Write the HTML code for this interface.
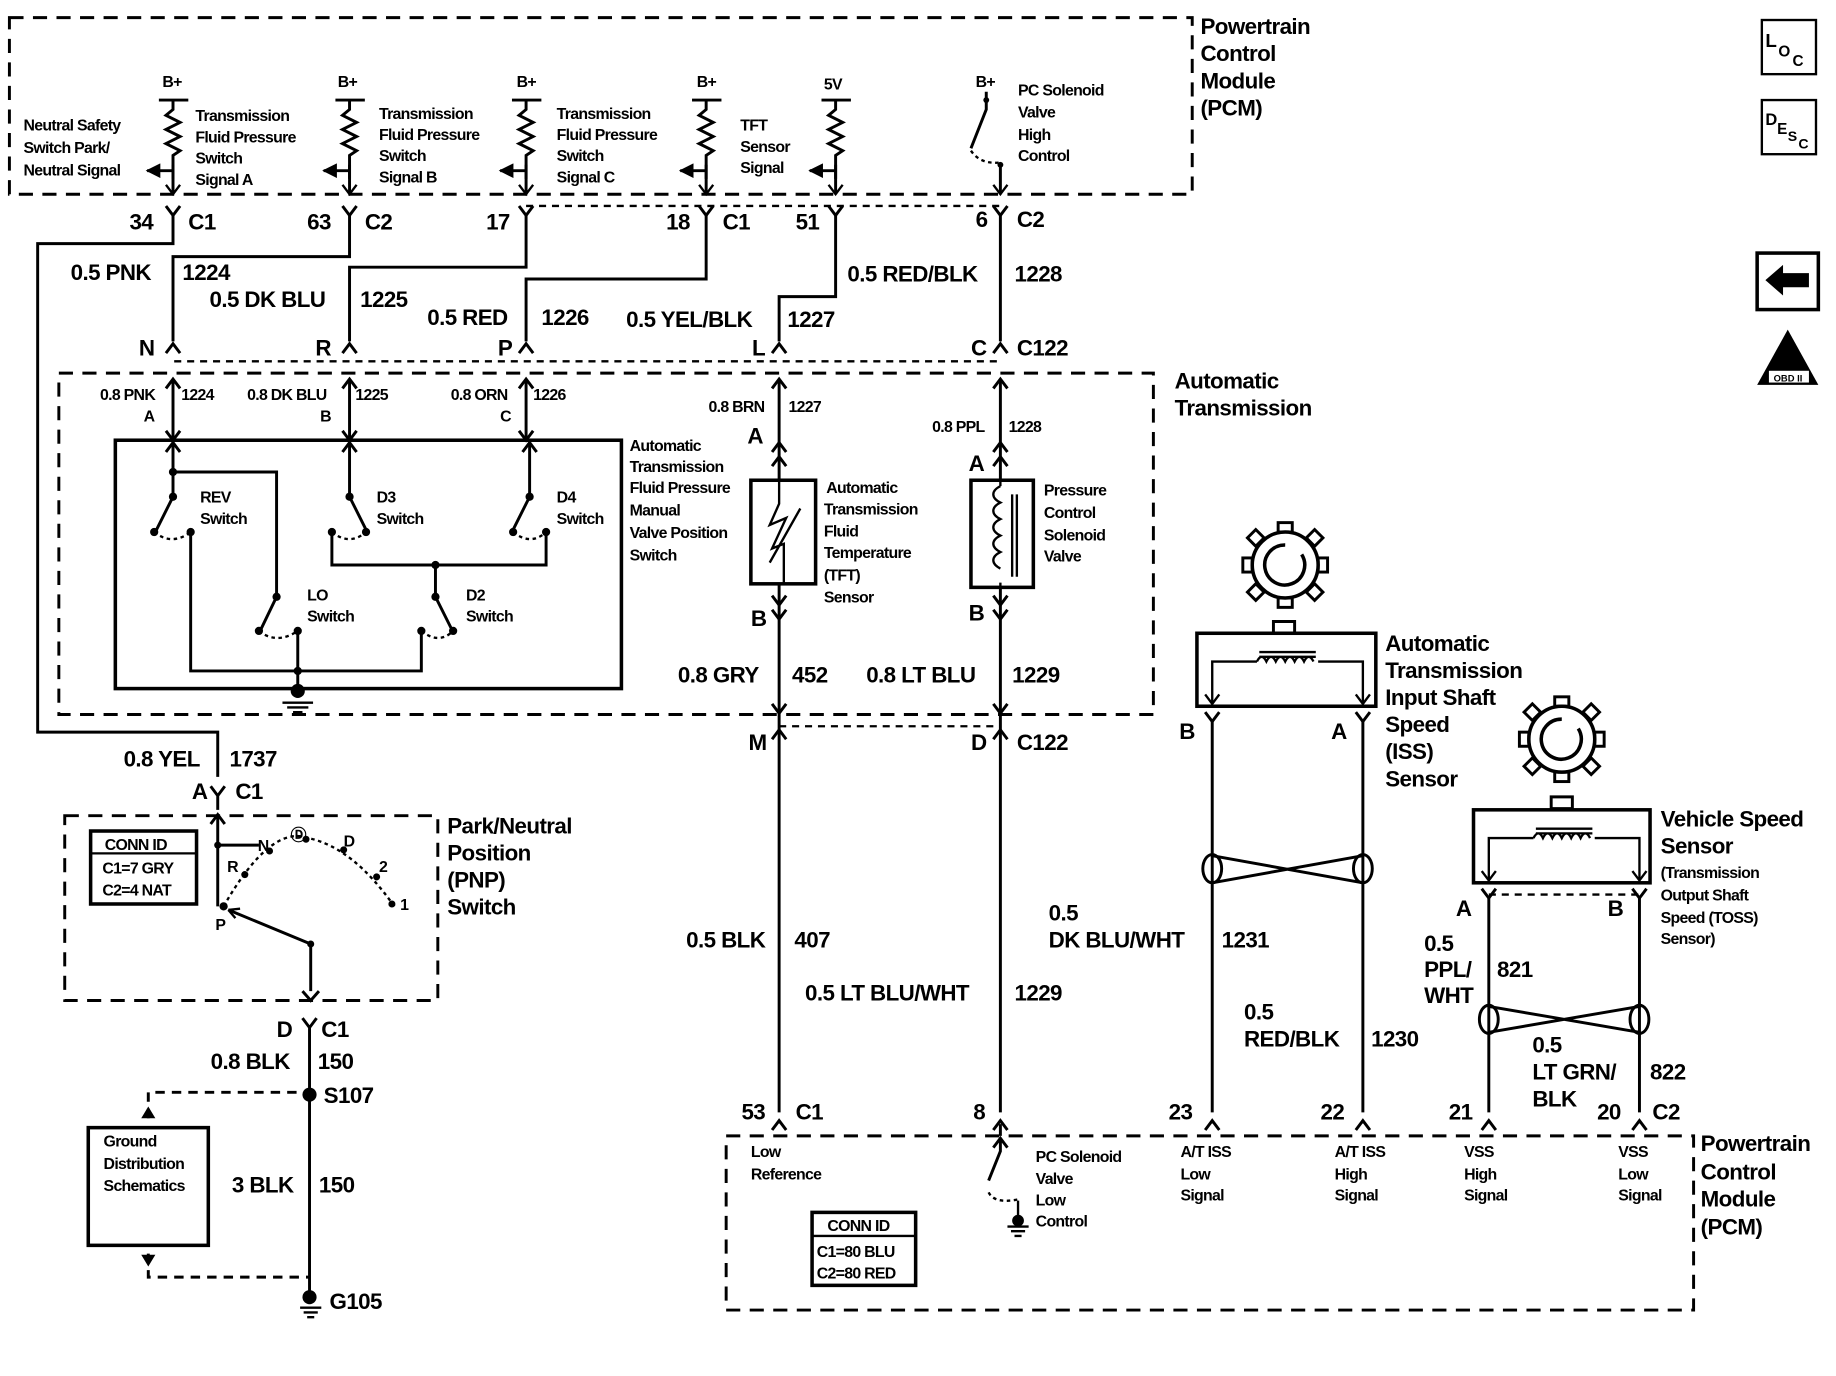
<!DOCTYPE html>
<html><head><meta charset="utf-8"><style>
html,body{margin:0;padding:0;background:#fff}
svg{display:block}
text{font-family:"Liberation Sans",sans-serif;fill:#000}
.b{font-size:19px;font-weight:bold;letter-spacing:-0.5px}
.s{font-size:13.5px;font-weight:bold;letter-spacing:-0.6px}
</style></head><body>
<svg width="1836" height="1376" viewBox="0 0 1560 1169" preserveAspectRatio="none" xmlns="http://www.w3.org/2000/svg">
<defs>
<marker id="ar" viewBox="0 0 10 10" refX="9" refY="5" markerWidth="5" markerHeight="5" orient="auto"><path d="M0,0L10,5L0,10z" fill="#000"/></marker>
</defs>
<g fill="none" stroke="#000" stroke-width="2.5">
<g stroke-dasharray="12,8">
<rect x="8" y="15" width="1005" height="150"/>
<rect x="50" y="317" width="930" height="290"/>
<rect x="617" y="965" width="822" height="148"/>
<rect x="55" y="693" width="317" height="157"/>
</g>
<g stroke-dasharray="6,5" stroke-width="2">
<line x1="447" y1="175" x2="850" y2="175"/>
<line x1="148" y1="307" x2="850" y2="307"/>
<line x1="662" y1="617" x2="850" y2="617"/>
<line x1="1265" y1="760" x2="1393" y2="760"/>
</g>
<path d="M135,85h25M147,85v8l-6,5l12,6l-12,6l12,6l-12,6l12,6l-6,4v20"/>
<path d="M285,85h25M297,85v8l-6,5l12,6l-12,6l12,6l-12,6l12,6l-6,4v20"/>
<path d="M435,85h25M447,85v8l-6,5l12,6l-12,6l12,6l-12,6l12,6l-6,4v20"/>
<path d="M588,85h25M600,85v8l-6,5l12,6l-12,6l12,6l-12,6l12,6l-6,4v20"/>
<path d="M698,85h25M710,85v8l-6,5l12,6l-12,6l12,6l-12,6l12,6l-6,4v20"/>
<path d="M147,145h-22" marker-end="url(#ar)"/>
<path d="M297,145h-22" marker-end="url(#ar)"/>
<path d="M447,145h-22" marker-end="url(#ar)"/>
<path d="M600,145h-22" marker-end="url(#ar)"/>
<path d="M710,145h-22" marker-end="url(#ar)"/>
<path d="M147,140v25M297,140v25M447,140v25M600,140v25M710,140v25M850,140v25"/>
<path d="M141,157l6,8l6,-8M291,157l6,8l6,-8M441,157l6,8l6,-8M594,157l6,8l6,-8M704,157l6,8l6,-8M844,157l6,8l6,-8" stroke-width="2"/>
<path d="M838,78v15l-13,33"/>
<path d="M825,128q8,12 25,10" stroke-dasharray="3,3" stroke-width="2"/>
<path d="M141,175l6,8l6,-8M291,175l6,8l6,-8M441,175l6,8l6,-8M594,175l6,8l6,-8M704,175l6,8l6,-8M844,175l6,8l6,-8"/>
<path d="M147,183v24H32v415h153v38"/>
<path d="M297,183v35H147v72"/>
<path d="M447,183v44H297v63"/>
<path d="M600,183v54H447v53"/>
<path d="M710,183v69H662v38"/>
<path d="M850,183v107"/>
<path d="M141,300l6,-8l6,8M291,300l6,-8l6,8M441,300l6,-8l6,8M656,300l6,-8l6,8M844,300l6,-8l6,8"/>
<path d="M147,322v50M297,322v50M447,322v50M662,322v85M850,322v85"/>
<path d="M141,330l6,-8l6,8M291,330l6,-8l6,8M441,330l6,-8l6,8M656,330l6,-8l6,8M844,330l6,-8l6,8"/>
<path d="M141,366l6,8l6,-8M291,366l6,8l6,-8M441,366l6,8l6,-8"/>
<rect x="98" y="374" width="430" height="211" stroke-width="3"/>
<path d="M147,376v46l-14,28M147,401h88v106l-13,27M162,452v118h196v-34M297,376v46l14,28M282,452v28h182v-28M450,376v46l-14,28M370,480v27l14,28M253,536v49"/>
<path d="M141,384l6,-8l6,8M291,384l6,-8l6,8M444,384l6,-8l6,8"/>
<g stroke-dasharray="3,3" stroke-width="2"><path d="M131,452q15,12 31,0M282,452q15,12 29,0M436,452q15,12 28,0M220,536q15,12 33,0M358,536q15,12 27,0"/></g>
<path d="M240,597h26M244,601h18M249,605h8" stroke-width="2"/>
<rect x="638" y="408" width="55" height="88" stroke-width="3"/>
<path d="M662,408v20l-8,18l14,-6l-12,26l10,-4v34M654,478l26,-46" stroke-width="2"/>
<path d="M656,396l6,-8l6,8M656,384l6,-8l6,8M656,506l6,8l6,-8M656,518l6,8l6,-8"/>
<path d="M662,496v125M850,499v122"/>
<rect x="825" y="408" width="53" height="91" stroke-width="3"/>
<path d="M850,408v5M850,495v4M850,413c-8,4 -8,10 0,14c-8,4 -8,10 0,14c-8,4 -8,10 0,14c-8,4 -8,10 0,14c-8,4 -8,10 0,14M860,420v70M864,420v70" stroke-width="2"/>
<path d="M844,396l6,-8l6,8M844,384l6,-8l6,8M844,506l6,8l6,-8M844,518l6,8l6,-8"/>
<path d="M656,598l6,8l6,-8M844,598l6,8l6,-8M656,628l6,-8l6,8M844,628l6,-8l6,8"/>
<path d="M662,620v325M850,620v325"/>
<!-- ISS gear -->
<circle cx="1092" cy="480" r="28" stroke-width="3"/>
<path d="M1092,463a17,17 0 1 0 14,8" stroke-width="3"/>
<g stroke-width="2.5">
<rect x="1086" y="444" width="12" height="8"/><rect x="1086" y="508" width="12" height="8"/><rect x="1056" y="474" width="8" height="12"/><rect x="1120" y="474" width="8" height="12"/>
<rect x="1062" y="452" width="10" height="10" transform="rotate(45 1067 457)"/><rect x="1112" y="452" width="10" height="10" transform="rotate(45 1117 457)"/><rect x="1062" y="498" width="10" height="10" transform="rotate(45 1067 503)"/><rect x="1112" y="498" width="10" height="10" transform="rotate(45 1117 503)"/>
</g>
<path d="M1082,528h18v10h-18z"/>
<rect x="1017" y="538" width="152" height="62" stroke-width="3"/>
<path d="M1030,598v-36h38M1158,598v-36h-38M1070,558h48M1070,554h48M1068,562q4,-8 8,0q4,-8 8,0q4,-8 8,0q4,-8 8,0q4,-8 8,0q4,-8 8,0" stroke-width="2"/>
<path d="M1024,590l6,8l6,-8M1152,590l6,8l6,-8" stroke-width="2"/>
<path d="M1024,605l6,8l6,-8M1152,605l6,8l6,-8"/>
<path d="M1030,613v332M1158,613v332"/>
<path d="M1030,727L1158,750M1030,750L1158,727"/>
<ellipse cx="1030" cy="738" rx="8" ry="12"/><ellipse cx="1158" cy="738" rx="8" ry="12"/>
<!-- VSS gear -->
<circle cx="1327" cy="628" r="28" stroke-width="3"/>
<path d="M1327,611a17,17 0 1 0 14,8" stroke-width="3"/>
<g stroke-width="2.5">
<rect x="1321" y="592" width="12" height="8"/><rect x="1321" y="656" width="12" height="8"/><rect x="1291" y="622" width="8" height="12"/><rect x="1355" y="622" width="8" height="12"/>
<rect x="1297" y="600" width="10" height="10" transform="rotate(45 1302 605)"/><rect x="1347" y="600" width="10" height="10" transform="rotate(45 1352 605)"/><rect x="1297" y="646" width="10" height="10" transform="rotate(45 1302 651)"/><rect x="1347" y="646" width="10" height="10" transform="rotate(45 1352 651)"/>
</g>
<path d="M1318,677h18v10h-18z"/>
<rect x="1252" y="688" width="150" height="62" stroke-width="3"/>
<path d="M1265,748v-36h38M1393,748v-36h-38M1305,708h48M1305,704h48M1303,712q4,-8 8,0q4,-8 8,0q4,-8 8,0q4,-8 8,0q4,-8 8,0q4,-8 8,0" stroke-width="2"/>
<path d="M1259,740l6,8l6,-8M1387,740l6,8l6,-8" stroke-width="2"/>
<path d="M1259,755l6,8l6,-8M1387,755l6,8l6,-8"/>
<path d="M1265,763v182M1393,763v182"/>
<path d="M1265,855L1393,877M1265,877L1393,855"/>
<ellipse cx="1265" cy="866" rx="8" ry="12"/><ellipse cx="1393" cy="866" rx="8" ry="12"/>
<path d="M656,960l6,-8l6,8M844,960l6,-8l6,8M1024,960l6,-8l6,8M1152,960l6,-8l6,8M1259,960l6,-8l6,8M1387,960l6,-8l6,8"/>
<path d="M850,965v-10M844,975l6,-8l6,8M850,968v10l-10,25"/>
<path d="M840,1013q5,10 25,6" stroke-dasharray="3,3" stroke-width="2"/>
<path d="M865,1020v18M856,1042h18M859,1046h12M862,1050h6" stroke-width="2"/>
<!-- PNP -->
<path d="M179,668l6,8l6,-8M185,676v12M179,700l6,-8l6,8M185,692v78"/>
<path d="M185,718h35"/>
<path d="M194,773L264,802M264,802v40"/>
<path d="M194,773l10,-1M194,773l6,7" stroke-width="2"/>
<path d="M257,842l7,8l7,-8M257,865l6,8l6,-8M263,872v225"/>
<path d="M190,770Q230,700 262,712Q300,720 335,770" stroke-dasharray="3,3" stroke-width="2"/>
<rect x="77" y="706" width="90" height="62" stroke-width="3"/>
<path d="M77,725h90" stroke-width="2"/>
<rect x="75" y="958" width="102" height="100" stroke-width="3"/>
<path d="M126,950v-22h137M126,1065v20h137" stroke-dasharray="8,6"/>
<path d="M255,1111h18M258,1115h12M261,1119h6" stroke-width="2"/>
<rect x="690" y="1030" width="88" height="62" stroke-width="3"/>
<path d="M690,1050h88" stroke-width="2"/>
<rect x="1497" y="17" width="46" height="46" stroke-width="2"/>
<rect x="1497" y="85" width="46" height="46" stroke-width="2"/>
<rect x="1493" y="215" width="52" height="48" stroke-width="3"/>
</g>
<g fill="#000">
<circle cx="253" cy="587" r="6"/>
<circle cx="147" cy="401" r="3.5"/><circle cx="147" cy="422" r="3.5"/><circle cx="131" cy="452" r="3.5"/><circle cx="162" cy="452" r="3.5"/>
<circle cx="297" cy="422" r="3.5"/><circle cx="282" cy="452" r="3.5"/><circle cx="311" cy="452" r="3.5"/>
<circle cx="450" cy="422" r="3.5"/><circle cx="436" cy="452" r="3.5"/><circle cx="464" cy="452" r="3.5"/>
<circle cx="370" cy="480" r="3.5"/><circle cx="235" cy="507" r="3.5"/><circle cx="220" cy="536" r="3.5"/><circle cx="253" cy="536" r="3.5"/>
<circle cx="370" cy="507" r="3.5"/><circle cx="358" cy="536" r="3.5"/><circle cx="385" cy="536" r="3.5"/><circle cx="253" cy="570" r="3.5"/>
<circle cx="263" cy="930" r="6"/><circle cx="263" cy="1102" r="6"/><circle cx="865" cy="1037" r="5"/>
<circle cx="185" cy="718" r="3"/><circle cx="190" cy="770" r="3.5"/><circle cx="208" cy="743" r="3"/><circle cx="229" cy="723" r="3"/><circle cx="260" cy="713" r="3"/><circle cx="292" cy="722" r="3"/><circle cx="320" cy="745" r="3"/><circle cx="333" cy="768" r="3"/>
<circle cx="264" cy="802" r="3"/>
<path d="M120,950l6,-10l6,10z M120,1066l6,10l6,-10z"/>
<path d="M1500,238l15,-13v7h22v12h-22v7z"/>
<path d="M1493,327l26,-47l26,47z"/>
<circle cx="838" cy="85" r="2.5"/><circle cx="850" cy="140" r="2.5"/>
</g>
<g fill="#fff"><rect x="1503" y="315" width="34" height="10"/></g>
<g class="s">
<text x="138" y="74">B+</text><text x="287" y="74">B+</text><text x="439" y="74">B+</text><text x="592" y="74">B+</text><text x="700" y="76">5V</text><text x="829" y="74">B+</text>
<text x="20" y="111">Neutral Safety</text><text x="20" y="130">Switch Park/</text><text x="20" y="149">Neutral Signal</text>
<text x="166" y="103">Transmission</text><text x="166" y="121">Fluid Pressure</text><text x="166" y="139">Switch</text><text x="166" y="157">Signal A</text>
<text x="322" y="101">Transmission</text><text x="322" y="119">Fluid Pressure</text><text x="322" y="137">Switch</text><text x="322" y="155">Signal B</text>
<text x="473" y="101">Transmission</text><text x="473" y="119">Fluid Pressure</text><text x="473" y="137">Switch</text><text x="473" y="155">Signal C</text>
<text x="629" y="111">TFT</text><text x="629" y="129">Sensor</text><text x="629" y="147">Signal</text>
<text x="865" y="81">PC Solenoid</text><text x="865" y="100">Valve</text><text x="865" y="119">High</text><text x="865" y="137">Control</text>
<text x="85" y="340">0.8 PNK</text><text x="154" y="340">1224</text><text x="122" y="358">A</text>
<text x="210" y="340">0.8 DK BLU</text><text x="302" y="340">1225</text><text x="272" y="358">B</text>
<text x="383" y="340">0.8 ORN</text><text x="453" y="340">1226</text><text x="425" y="358">C</text>
<text x="602" y="350">0.8 BRN</text><text x="670" y="350">1227</text>
<text x="792" y="367">0.8 PPL</text><text x="857" y="367">1228</text>
<text x="170" y="427">REV</text><text x="170" y="445">Switch</text>
<text x="320" y="427">D3</text><text x="320" y="445">Switch</text>
<text x="473" y="427">D4</text><text x="473" y="445">Switch</text>
<text x="261" y="510">LO</text><text x="261" y="528">Switch</text>
<text x="396" y="510">D2</text><text x="396" y="528">Switch</text>
<text x="535" y="383">Automatic</text><text x="535" y="401">Transmission</text><text x="535" y="419">Fluid Pressure</text><text x="535" y="438">Manual</text><text x="535" y="457">Valve Position</text><text x="535" y="476">Switch</text>
<text x="702" y="419">Automatic</text><text x="700" y="437">Transmission</text><text x="700" y="456">Fluid</text><text x="700" y="474">Temperature</text><text x="700" y="493">(TFT)</text><text x="700" y="512">Sensor</text>
<text x="887" y="421">Pressure</text><text x="887" y="440">Control</text><text x="887" y="459">Solenoid</text><text x="887" y="477">Valve</text>
<text x="89" y="722">CONN ID</text><text x="87" y="742">C1=7 GRY</text><text x="87" y="761">C2=4 NAT</text>
<text x="219" y="723">N</text><text x="193" y="741">R</text><text x="183" y="790">P</text><text x="247" y="714">Ⓓ</text><text x="292" y="719">D</text><text x="322" y="741">2</text><text x="340" y="773">1</text>
<text x="88" y="974">Ground</text><text x="88" y="993">Distribution</text><text x="88" y="1012">Schematics</text>
<text x="638" y="983">Low</text><text x="638" y="1002">Reference</text>
<text x="880" y="987">PC Solenoid</text><text x="880" y="1006">Valve</text><text x="880" y="1024">Low</text><text x="880" y="1042">Control</text>
<text x="1003" y="983">A/T ISS</text><text x="1003" y="1002">Low</text><text x="1003" y="1020">Signal</text>
<text x="1134" y="983">A/T ISS</text><text x="1134" y="1002">High</text><text x="1134" y="1020">Signal</text>
<text x="1244" y="983">VSS</text><text x="1244" y="1002">High</text><text x="1244" y="1020">Signal</text>
<text x="1375" y="983">VSS</text><text x="1375" y="1002">Low</text><text x="1375" y="1020">Signal</text>
<text x="703" y="1046">CONN ID</text><text x="694" y="1068">C1=80 BLU</text><text x="694" y="1086">C2=80 RED</text>
<text x="1411" y="746">(Transmission</text><text x="1411" y="765">Output Shaft</text><text x="1411" y="784">Speed (TOSS)</text><text x="1411" y="802">Sensor)</text>
</g>
<g class="b">
<text x="1020" y="29">Powertrain</text><text x="1020" y="52">Control</text><text x="1020" y="75">Module</text><text x="1020" y="98">(PCM)</text>
<text x="110" y="195">34</text><text x="160" y="195">C1</text><text x="261" y="195">63</text><text x="310" y="195">C2</text><text x="413" y="195">17</text><text x="566" y="195">18</text><text x="614" y="195">C1</text><text x="676" y="195">51</text><text x="829" y="193">6</text><text x="864" y="193">C2</text>
<text x="60" y="238">0.5 PNK</text><text x="155" y="238">1224</text>
<text x="178" y="261">0.5 DK BLU</text><text x="306" y="261">1225</text>
<text x="363" y="276">0.5 RED</text><text x="460" y="276">1226</text>
<text x="532" y="278">0.5 YEL/BLK</text><text x="669" y="278">1227</text>
<text x="720" y="239">0.5 RED/BLK</text><text x="862" y="239">1228</text>
<text x="118" y="302">N</text><text x="268" y="302">R</text><text x="423" y="302">P</text><text x="639" y="302">L</text><text x="825" y="302">C</text><text x="864" y="302">C122</text>
<text x="998" y="330">Automatic</text><text x="998" y="353">Transmission</text>
<text x="635" y="377">A</text><text x="823" y="400">A</text><text x="638" y="532">B</text><text x="823" y="527">B</text>
<text x="576" y="580">0.8 GRY</text><text x="673" y="580">452</text><text x="736" y="580">0.8 LT BLU</text><text x="860" y="580">1229</text>
<text x="636" y="637">M</text><text x="825" y="637">D</text><text x="864" y="637">C122</text>
<text x="1177" y="553">Automatic</text><text x="1177" y="576">Transmission</text><text x="1177" y="599">Input Shaft</text><text x="1177" y="622">Speed</text><text x="1177" y="645">(ISS)</text><text x="1177" y="668">Sensor</text>
<text x="1002" y="628">B</text><text x="1131" y="628">A</text>
<text x="1411" y="702">Vehicle Speed</text><text x="1411" y="725">Sensor</text>
<text x="1237" y="778">A</text><text x="1366" y="778">B</text>
<text x="105" y="651">0.8 YEL</text><text x="195" y="651">1737</text><text x="163" y="679">A</text><text x="200" y="679">C1</text>
<text x="380" y="708">Park/Neutral</text><text x="380" y="731">Position</text><text x="380" y="754">(PNP)</text><text x="380" y="777">Switch</text>
<text x="235" y="881">D</text><text x="273" y="881">C1</text>
<text x="179" y="908">0.8 BLK</text><text x="270" y="908">150</text>
<text x="275" y="937">S107</text>
<text x="197" y="1013">3 BLK</text><text x="271" y="1013">150</text>
<text x="280" y="1112">G105</text>
<text x="583" y="805">0.5 BLK</text><text x="675" y="805">407</text>
<text x="684" y="850">0.5 LT BLU/WHT</text><text x="862" y="850">1229</text>
<text x="891" y="782">0.5</text><text x="891" y="805">DK BLU/WHT</text><text x="1038" y="805">1231</text>
<text x="1057" y="866">0.5</text><text x="1057" y="889">RED/BLK</text><text x="1165" y="889">1230</text>
<text x="1210" y="808">0.5</text><text x="1210" y="830">PPL/</text><text x="1210" y="852">WHT</text><text x="1272" y="830">821</text>
<text x="1302" y="894">0.5</text><text x="1302" y="917">LT GRN/</text><text x="1302" y="940">BLK</text><text x="1402" y="917">822</text>
<text x="630" y="951">53</text><text x="676" y="951">C1</text><text x="827" y="951">8</text><text x="993" y="951">23</text><text x="1122" y="951">22</text><text x="1231" y="951">21</text><text x="1357" y="951">20</text><text x="1404" y="951">C2</text>
<text x="1445" y="978">Powertrain</text><text x="1445" y="1002">Control</text><text x="1445" y="1025">Module</text><text x="1445" y="1049">(PCM)</text>
<text x="1500" y="40" style="font-size:16px">L</text><text x="1511" y="48" style="font-size:13px">O</text><text x="1523" y="56" style="font-size:13px">C</text>
<text x="1500" y="106" style="font-size:14px">D</text><text x="1510" y="114" style="font-size:13px">E</text><text x="1519" y="120" style="font-size:12px">S</text><text x="1528" y="126" style="font-size:12px">C</text>
</g>
<text x="1507" y="324" style="font-size:8px;font-weight:bold">OBD II</text>
</svg>
</body></html>
